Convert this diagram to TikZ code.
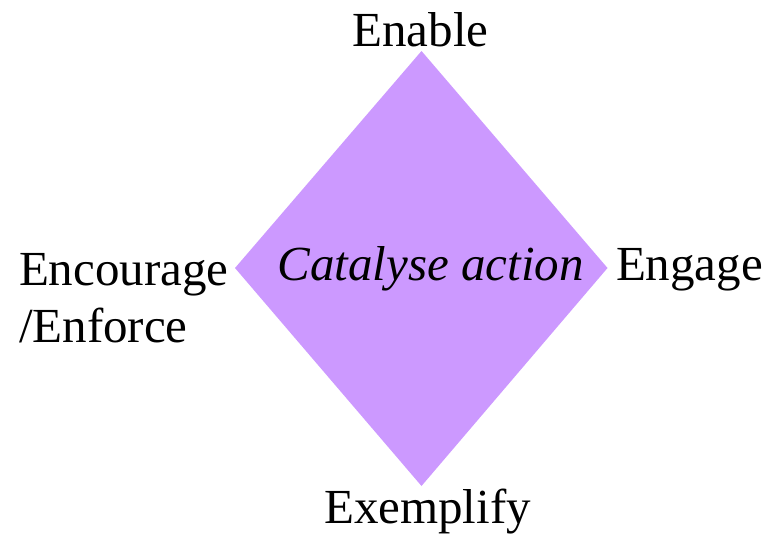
\documentclass[tikz,border=0pt]{standalone}
\usepackage{fontspec}
\setmainfont{Liberation Serif}
\definecolor{diafill}{HTML}{CC99FF}
\tikzset{
  lbl/.style={inner sep=0pt, outer sep=0pt, font=\fontsize{49}{57}\selectfont},
}
\begin{document}
\begin{tikzpicture}[x=1pt,y=-1pt]
\useasboundingbox (0,0) rectangle (768,533);
\coordinate (top) at (421.5,51);
\coordinate (right) at (607.5,268);
\coordinate (bottom) at (421.5,486);
\coordinate (left) at (235,268);
\fill[diafill] (top) -- (right) -- (bottom) -- (left) -- cycle;
\node[lbl, anchor=base, font=\fontsize{49}{57}\selectfont\itshape] (cat) at (430.5,280) {Catalyse action};
\node[lbl, anchor=base] (enable) at (420.5,46) {Enable};
\node[lbl, anchor=base west] (engage) at (616,280) {Engage};
\node[lbl, anchor=base west] (enc1) at (19,285) {Encourage};
\node[lbl, anchor=base west] (enc2) at (19,342) {/Enforce};
\node[lbl, anchor=base] (exemp) at (427.5,523) {Exemplify};
\end{tikzpicture}
\end{document}
